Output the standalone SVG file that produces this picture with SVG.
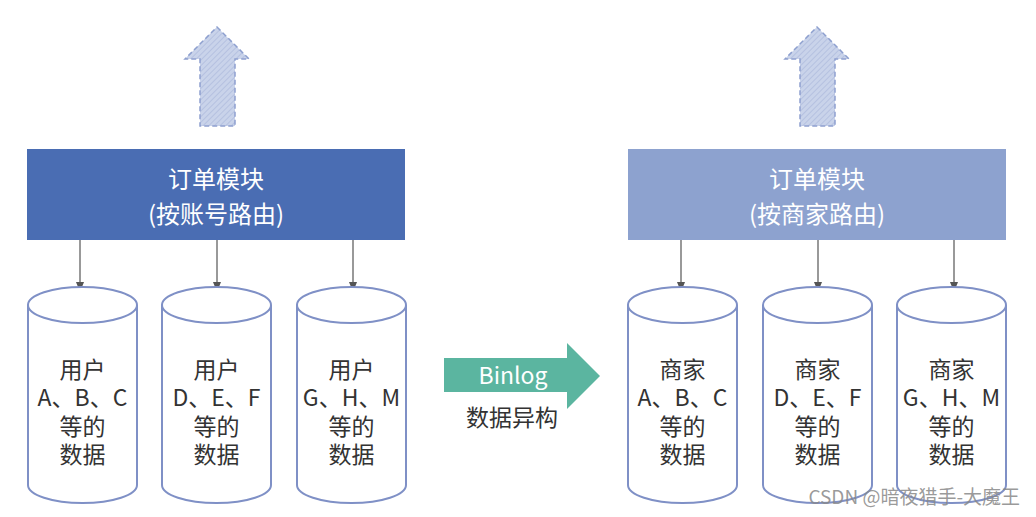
<svg xmlns="http://www.w3.org/2000/svg" width="1036" height="517" viewBox="0 0 1036 517">
<defs>
<pattern id="hatch" patternUnits="userSpaceOnUse" width="4" height="4" patternTransform="rotate(45)">
<rect width="4" height="4" fill="#c9d3ea"/>
<line x1="0" y1="0" x2="0" y2="4" stroke="#aebbdd" stroke-width="1.5"/>
</pattern>
<marker id="ah" markerWidth="10" markerHeight="10" refX="5" refY="5" orient="auto" markerUnits="userSpaceOnUse">
<path d="M0,1 L10,5 L0,9 Z" fill="#555"/>
</marker>
<style>
.t{font-family:"Noto Sans CJK SC","Noto Sans",sans-serif;font-size:23px;text-anchor:middle}
.h{font-size:24px}
.w{fill:#ffffff}
.d{fill:#333333}
.cyl{fill:#ffffff;stroke:#7f90c6;stroke-width:2}
.up{fill:url(#hatch);stroke:#8ea0cf;stroke-width:1.5;stroke-dasharray:5,3}
.con{stroke:#555;stroke-width:1.2;fill:none;marker-end:url(#ah)}
</style>
</defs>
<rect width="1036" height="517" fill="#ffffff"/>

<g id="up-left"><path class="up" d="M217,27 L249,59 L235,59 L235,126 L200,126 L200,59 L185,59 Z"/></g>
<g id="up-right"><path class="up" d="M817,27 L849,59 L835,59 L835,126 L800,126 L800,59 L785,59 Z"/></g>

<g id="order-left">
<rect x="27" y="149" width="378" height="91" fill="#4a6db3"/>
<text class="t h w" x="216" y="188">订单模块</text>
<text class="t h w" x="216" y="223">(按账号路由)</text>
</g>
<g id="order-right">
<rect x="628" y="149" width="378" height="91" fill="#8da2cf"/>
<text class="t h w" x="817" y="188">订单模块</text>
<text class="t h w" x="817" y="223">(按商家路由)</text>
</g>

<g id="connectors">
<line class="con" x1="80" y1="240" x2="80" y2="287"/>
<line class="con" x1="217" y1="240" x2="217" y2="287"/>
<line class="con" x1="353" y1="240" x2="353" y2="287"/>
<line class="con" x1="681" y1="240" x2="681" y2="287"/>
<line class="con" x1="818" y1="240" x2="818" y2="287"/>
<line class="con" x1="954" y1="240" x2="954" y2="287"/>
</g>

<g id="db-l1">
<path class="cyl" d="M28,305 L28,485 A54.5,18 0 0 0 137,485 L137,305"/>
<ellipse class="cyl" cx="82.5" cy="305" rx="54.5" ry="18"/>
<text class="t d" x="82.5" y="378">用户</text>
<text class="t d" x="82.5" y="406">A、B、C</text>
<text class="t d" x="82.5" y="435">等的</text>
<text class="t d" x="82.5" y="463">数据</text>
</g>
<g id="db-l2">
<path class="cyl" d="M162,305 L162,485 A54.5,18 0 0 0 271,485 L271,305"/>
<ellipse class="cyl" cx="216.5" cy="305" rx="54.5" ry="18"/>
<text class="t d" x="216.5" y="378">用户</text>
<text class="t d" x="216.5" y="406">D、E、F</text>
<text class="t d" x="216.5" y="435">等的</text>
<text class="t d" x="216.5" y="463">数据</text>
</g>
<g id="db-l3">
<path class="cyl" d="M297,305 L297,485 A54.5,18 0 0 0 406,485 L406,305"/>
<ellipse class="cyl" cx="351.5" cy="305" rx="54.5" ry="18"/>
<text class="t d" x="351.5" y="378">用户</text>
<text class="t d" x="351.5" y="406">G、H、M</text>
<text class="t d" x="351.5" y="435">等的</text>
<text class="t d" x="351.5" y="463">数据</text>
</g>

<g id="db-r1">
<path class="cyl" d="M628,305 L628,485 A54.5,18 0 0 0 737,485 L737,305"/>
<ellipse class="cyl" cx="682.5" cy="305" rx="54.5" ry="18"/>
<text class="t d" x="682.5" y="378">商家</text>
<text class="t d" x="682.5" y="406">A、B、C</text>
<text class="t d" x="682.5" y="435">等的</text>
<text class="t d" x="682.5" y="463">数据</text>
</g>
<g id="db-r2">
<path class="cyl" d="M763,305 L763,485 A54.5,18 0 0 0 872,485 L872,305"/>
<ellipse class="cyl" cx="817.5" cy="305" rx="54.5" ry="18"/>
<text class="t d" x="817.5" y="378">商家</text>
<text class="t d" x="817.5" y="406">D、E、F</text>
<text class="t d" x="817.5" y="435">等的</text>
<text class="t d" x="817.5" y="463">数据</text>
</g>
<g id="db-r3">
<path class="cyl" d="M897,305 L897,485 A54.5,18 0 0 0 1006,485 L1006,305"/>
<ellipse class="cyl" cx="951.5" cy="305" rx="54.5" ry="18"/>
<text class="t d" x="951.5" y="378">商家</text>
<text class="t d" x="951.5" y="406">G、H、M</text>
<text class="t d" x="951.5" y="435">等的</text>
<text class="t d" x="951.5" y="463">数据</text>
</g>

<g id="binlog">
<path d="M444,358 L567,358 L567,343 L600,376 L567,409 L567,392 L444,392 Z" fill="#5bb5a0"/>
<text class="t w" x="513" y="384">Binlog</text>
<text class="t d" x="512" y="426">数据异构</text>
</g>

<text x="1020" y="504" font-family="Noto Sans CJK SC,Noto Sans,sans-serif" font-size="19" fill="#888" fill-opacity="0.85" text-anchor="end">CSDN @暗夜猎手-大魔王</text>
</svg>
